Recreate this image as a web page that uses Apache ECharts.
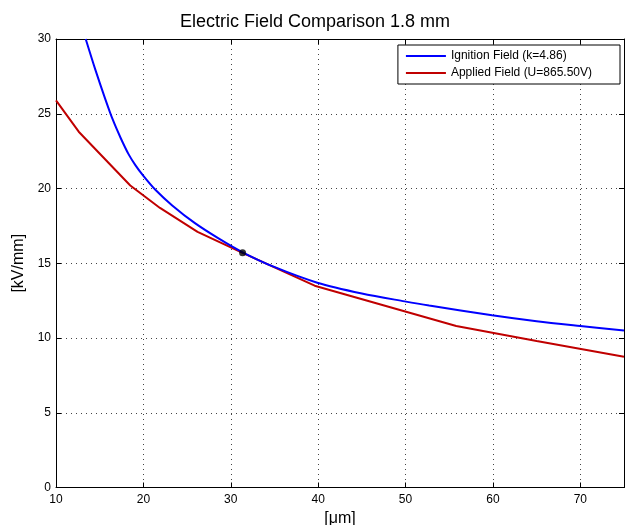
<!DOCTYPE html>
<html>
<head>
<meta charset="utf-8">
<script src="https://cdn.jsdelivr.net/npm/echarts@6/dist/echarts.min.js"></script>
<style>html,body{margin:0;padding:0;background:#fff}#c{width:630px;height:525px}</style>
</head>
<body>
<div id="c"></div>
<script>
const ignitionX = [13.4, 14.5, 15.6, 16.5, 17.4, 18.3, 19.1, 20, 21.4, 23.3, 25.9, 28.6, 31.3, 34.9, 39.9, 45, 49.9, 52.7, 59.9, 65, 70, 75];
const ignitionY = [30, 27.95, 26.05, 24.6, 23.38, 22.3, 21.55, 20.85, 19.9, 18.87, 17.68, 16.66, 15.75, 14.77, 13.7, 12.98, 12.45, 12.17, 11.52, 11.12, 10.8, 10.5];
const appliedX = [10, 12.6, 18.5, 21.9, 26.2, 31.35, 39.6, 55.8, 65, 75];
const appliedY = [25.9, 23.8, 20.2, 18.7, 17.1, 15.7, 13.5, 10.8, 9.8, 8.75];
const crossX = [31.35];
const crossY = [15.7];
const xTicks = [10, 20, 30, 40, 50, 60, 70];
const yTicks = [0, 5, 10, 15, 20, 25, 30];
const names = ['Ignition Field (k=4.86)', 'Applied Field (U=865.50V)'];

const zip = (a, b) => a.map((v, i) => [v, b[i]]);
const font = 'Liberation Sans, Arial, sans-serif';
const chart = echarts.init(document.getElementById('c'));
const gridLine = { show: true, lineStyle: { color: '#444', type: [1, 4], width: 1 } };
const baseX = {
  type: 'value', min: 10, max: 75, interval: 10,
  axisLine: { show: true, onZero: false, lineStyle: { color: '#000', width: 1 } },
  axisTick: { show: true, inside: true, length: 5, lineStyle: { color: '#000' } },
  splitLine: { show: false }
};
const baseY = {
  type: 'value', min: 0, max: 30, interval: 5,
  axisLine: { show: true, onZero: false, lineStyle: { color: '#000', width: 1 } },
  axisTick: { show: true, inside: true, length: 5, lineStyle: { color: '#000' } },
  splitLine: { show: false }
};
chart.setOption({
  animation: false,
  backgroundColor: '#fff',
  title: {
    text: 'Electric Field Comparison 1.8 mm', left: 'center', top: 8,
    textStyle: { fontFamily: font, fontSize: 18, fontWeight: 'normal', color: '#000' }
  },
  grid: { left: 56, right: 6, top: 39, bottom: 37.5, containLabel: false, outerBoundsMode: 'none' },
  legend: {
    data: names, orient: 'vertical', right: 10, top: 45,
    padding: [5, 28, 5, 8], itemGap: 5,
    backgroundColor: '#fff', borderColor: '#000', borderWidth: 1, borderRadius: 0,
    itemWidth: 40, itemHeight: 2, icon: 'rect',
    textStyle: { fontFamily: font, fontSize: 12, color: '#000' }
  },
  xAxis: [
    Object.assign({}, baseX, {
      position: 'bottom',
      splitLine: gridLine,
      axisLabel: { show: true, margin: 6, color: '#000', fontFamily: font, fontSize: 12,
        customValues: xTicks },
      name: '[μm]', nameLocation: 'middle', nameGap: 20,
      nameTextStyle: { fontFamily: font, fontSize: 16, color: '#000' }
    }),
    Object.assign({}, baseX, { position: 'top', axisLabel: { show: false } })
  ],
  yAxis: [
    Object.assign({}, baseY, {
      position: 'left',
      splitLine: gridLine,
      axisLabel: { show: true, margin: 5, color: '#000', fontFamily: font, fontSize: 12,
        customValues: yTicks },
      name: '[kV/mm]', nameLocation: 'middle', nameGap: 24, nameRotate: 90,
      nameTextStyle: { fontFamily: font, fontSize: 16, color: '#000' }
    }),
    Object.assign({}, baseY, { position: 'right', axisLabel: { show: false } })
  ],
  series: [
    {
      name: names[0], type: 'line', data: zip(ignitionX, ignitionY),
      smooth: 0.3, symbol: 'none', clip: true,
      lineStyle: { color: '#0000ff', width: 2 }, itemStyle: { color: '#0000ff' }, z: 3
    },
    {
      name: names[1], type: 'line', data: zip(appliedX, appliedY),
      smooth: false, symbol: 'none', clip: true,
      lineStyle: { color: '#c00000', width: 2 }, itemStyle: { color: '#c00000' }, z: 2
    },
    {
      name: 'cross', type: 'scatter', data: zip(crossX, crossY),
      symbol: 'circle', symbolSize: 7, itemStyle: { color: '#000' }, z: 5
    }
  ]
});
</script>
</body>
</html>
